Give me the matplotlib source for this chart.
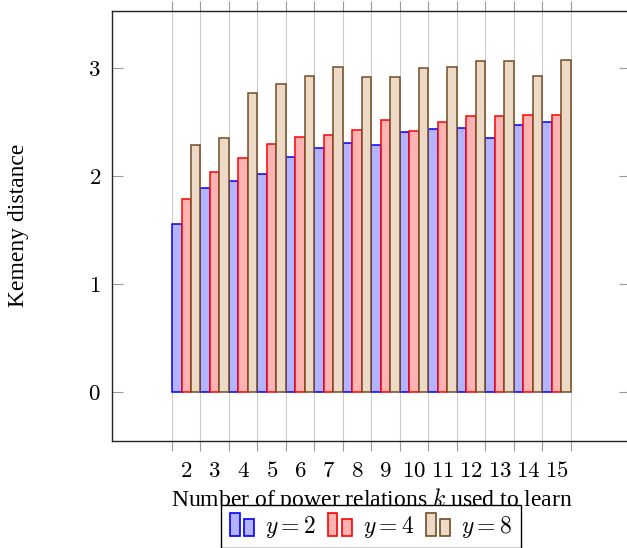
import matplotlib
matplotlib.use('Agg')
from matplotlib import pyplot as plt
from matplotlib.legend_handler import HandlerBase
from matplotlib.patches import Rectangle
import numpy as np

plt.rcParams['font.family'] = ['Liberation Serif', 'DejaVu Serif']
plt.rcParams['mathtext.fontset'] = 'cm'

ks = [2, 3, 4, 5, 6, 7, 8, 9, 10, 11, 12, 13, 14, 15]
y2 = [1.56, 1.89, 1.96, 2.02, 2.18, 2.26, 2.31, 2.29, 2.41, 2.44, 2.45, 2.35, 2.47, 2.50]
y4 = [1.79, 2.04, 2.17, 2.30, 2.36, 2.38, 2.43, 2.52, 2.42, 2.50, 2.56, 2.56, 2.57, 2.57]
y8 = [2.29, 2.35, 2.77, 2.85, 2.93, 3.01, 2.92, 2.92, 3.00, 3.01, 3.07, 3.07, 2.93, 3.08]
series_labels = ['$y = 2$', '$y = 4$', '$y = 8$']
yticks = [0, 1, 2, 3]

fills = ['#b3b3ff', '#ffb3b3', '#ecd9c6']
edges = ['#0000ff', '#ff0000', '#734d26']


class TwoBars(HandlerBase):
    # pgfplots style ybar legend: a tall and a short bar
    def create_artists(self, legend, orig_handle, xdescent, ydescent,
                       width, height, fontsize, trans):
        fc = orig_handle.get_facecolor()
        ec = orig_handle.get_edgecolor()
        w = width * 0.4
        y0 = -ydescent - height * 0.2
        r1 = Rectangle((-xdescent, y0), w, height * 1.35, fc=fc, ec=ec,
                       lw=1.2, transform=trans)
        r2 = Rectangle((-xdescent + width * 0.58, y0), w, height * 1.0,
                       fc=fc, ec=ec, lw=1.2, transform=trans)
        return [r1, r2]


fig = plt.figure(figsize=(6.27, 5.48), dpi=100)
ax = fig.add_axes([112 / 627, 1 - 441.3 / 548, 518 / 627, 430.3 / 548])

x = np.array(ks, dtype=float)
bw = 1 / 3
handles = []
for i, vals in enumerate([y2, y4, y8]):
    b = ax.bar(x + (i - 1) * bw, vals, width=bw, color=fills[i],
               edgecolor=edges[i], linewidth=1.1, zorder=3)
    handles.append(b[0])

ax.set_xlim(-0.607, 17.58)
ax.set_ylim(-0.455, 3.53)

# gridlines/ticks between groups, labels at group centres
ax.set_xticks([k - 0.5 for k in ks] + [ks[-1] + 0.5])
ax.set_xticklabels([])
ax.set_xticks(ks, minor=True)
ax.set_xticklabels(['$%d$' % k for k in ks], minor=True, fontsize=16.5)
ax.tick_params(axis='x', which='major', direction='out', length=7.5,
               top=True, bottom=True, color='#999999', width=0.8)
ax.tick_params(axis='x', which='minor', length=0, pad=14)
ax.grid(axis='x', which='major', color='#cccccc', linewidth=0.8, zorder=0)

ax.set_yticks(yticks)
ax.set_yticklabels(['$%d$' % t for t in yticks], fontsize=16.5)
ax.tick_params(axis='y', direction='in', length=8, left=True, right=True,
               color='#999999', width=0.8, pad=8)

for s in ax.spines.values():
    s.set_linewidth(1.0)
    s.set_color('#222222')

ax.set_xlabel('Number of power relations $k$ used to learn', fontsize=17)
ax.xaxis.set_label_coords(0.502, -0.104)
ax.set_ylabel('Kemeny distance', fontsize=17)
ax.yaxis.set_label_coords(-0.16, 0.503)

leg = fig.legend(handles, series_labels, ncol=3, loc='center',
                 bbox_to_anchor=(371 / 627, 1 - 526.5 / 548), fontsize=17,
                 handler_map={Rectangle: TwoBars()}, fancybox=False,
                 framealpha=1, edgecolor='black', handlelength=1.05,
                 handleheight=0.7, handletextpad=0.45, columnspacing=0.5,
                 borderpad=0.38, borderaxespad=0)
leg.get_frame().set_linewidth(1.0)

fig.savefig('out.png', dpi=100)
